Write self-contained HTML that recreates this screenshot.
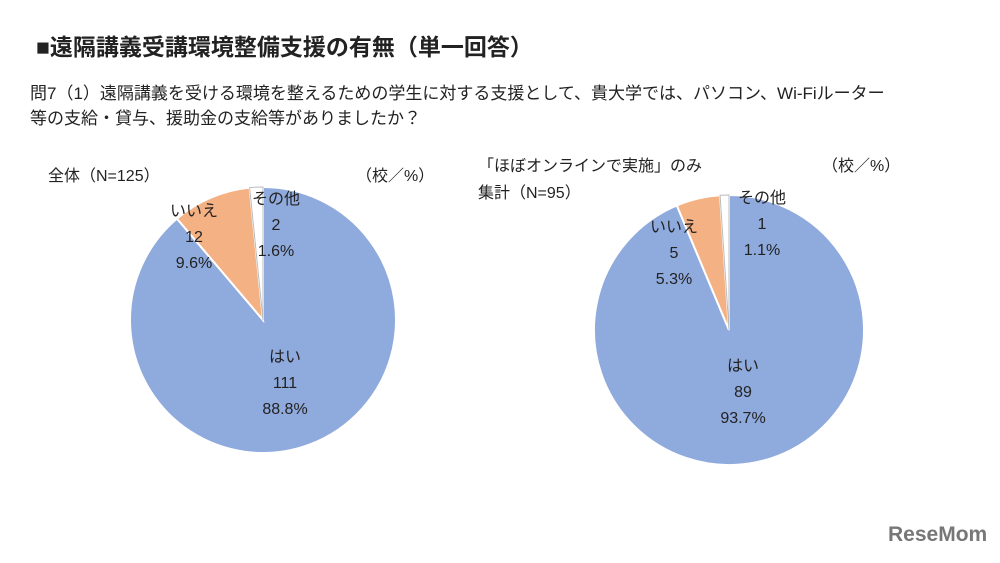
<!DOCTYPE html>
<html><head><meta charset="utf-8"><style>
body{margin:0;width:1000px;height:558px;background:#fff;overflow:hidden;font-family:"Liberation Sans","Noto Sans CJK JP",sans-serif}
svg text{font-family:"Liberation Sans","Noto Sans CJK JP",sans-serif;fill:#222}
</style></head><body>
<svg width="1000" height="558">
<text x="36" y="55" font-size="23" font-weight="bold">■遠隔講義受講環境整備支援の有無（単一回答）</text>
<text x="30" y="99" font-size="17">問7（1）遠隔講義を受ける環境を整えるための学生に対する支援として、貴大学では、パソコン、Wi-Fiルーター</text>
<text x="30" y="124" font-size="17">等の支給・貸与、援助金の支給等がありましたか？</text>
<text x="48" y="181" font-size="16">全体（N=125）</text>
<text x="356" y="181" font-size="16">（校／%）</text>
<text x="478" y="171" font-size="16">「ほぼオンラインで実施」のみ</text>
<text x="478" y="198" font-size="16">集計（N=95）</text>
<text x="822" y="171" font-size="16">（校／%）</text>
<g id="pies"></g>
<text x="888" y="541" font-size="21" font-weight="bold" style="fill:#777">ReseMom</text>
</svg>
<script>
const categories=["はい","いいえ","その他"];
const counts1=[111,12,2];
const pcts1=["88.8%","9.6%","1.6%"];
const counts2=[89,5,1];
const pcts2=["93.7%","5.3%","1.1%"];
const colors=["#8faadc","#f4b183","#ffffff"];
const NS="http://www.w3.org/2000/svg";
const g=document.getElementById("pies");
function mk(t,a){const e=document.createElementNS(NS,t);for(const k in a)e.setAttribute(k,a[k]);return e;}
function pie(cx,cy,r,counts,pcts,labelPos,id){
  const tot=counts.reduce((a,b)=>a+b,0);let a0=0;
  counts.forEach((v,i)=>{
    const a1=a0+v/tot*2*Math.PI;
    const x0=cx+r*Math.sin(a0),y0=cy-r*Math.cos(a0),x1=cx+r*Math.sin(a1),y1=cy-r*Math.cos(a1);
    const p=mk("path",{d:`M${cx},${cy}L${x0},${y0}A${r},${r} 0 ${a1-a0>Math.PI?1:0} 1 ${x1},${y1}Z`,fill:colors[i],stroke:i==2?"#bbb":"#fff","stroke-width":i==2?1:2});
    
    
    g.appendChild(p);a0=a1;
  });
  counts.forEach((v,i)=>{
    const [lx,ly]=labelPos[i];
    [categories[i],String(v),pcts[i]].forEach((s,j)=>{
      const t=mk("text",{x:lx,y:ly+j*26,"font-size":16,"text-anchor":"middle"});t.textContent=s;
      
      
      g.appendChild(t);
    });
  });
}
pie(263,320,133,counts1,pcts1,[[285,362],[194,216],[276,204]],"pie1");
pie(729,330,135,counts2,pcts2,[[743,371],[674,232],[762,203]],"pie2");
</script>
</body></html>
